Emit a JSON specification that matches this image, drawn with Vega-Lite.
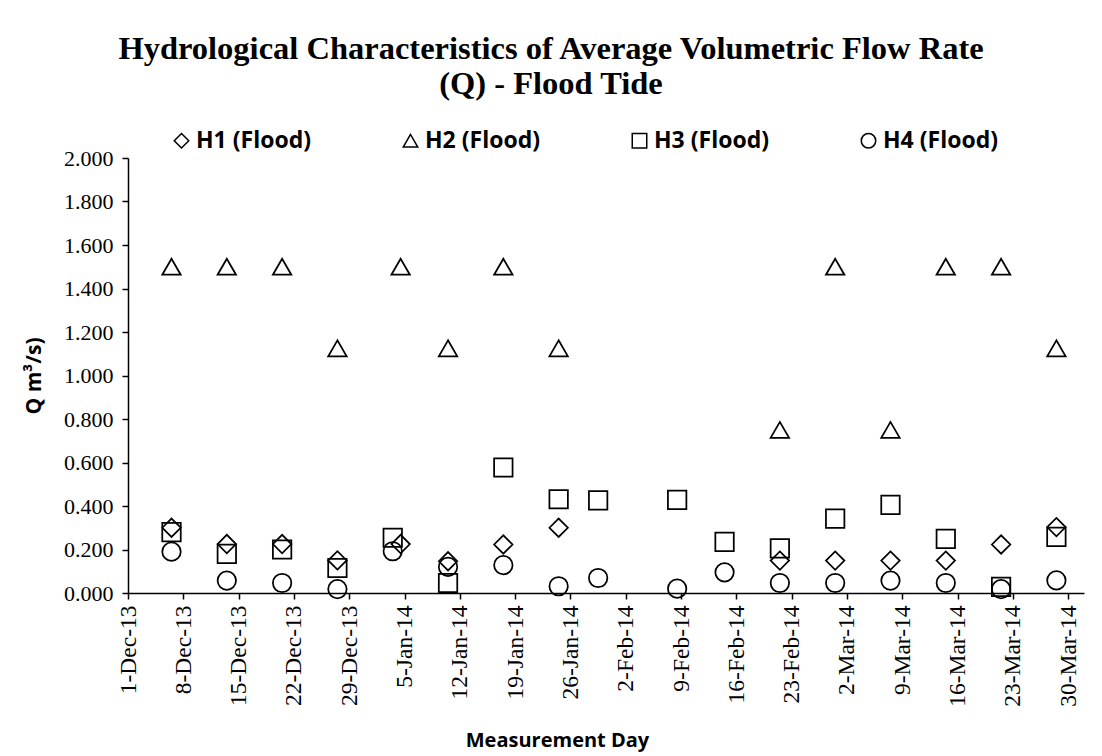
{
  "$schema": "https://vega.github.io/schema/vega-lite/v6.json",
  "width": 956,
  "height": 435,
  "autosize": {"type": "none"},
  "padding": {"left": 128, "top": 158, "right": 18, "bottom": 163},
  "background": "white",
  "title": {
    "text": ["Hydrological Characteristics of Average Volumetric Flow Rate", "(Q) - Flood Tide"],
    "font": "Liberation Serif",
    "fontSize": 32.5,
    "fontWeight": "bold",
    "color": "black",
    "lineHeight": 35,
    "anchor": "middle",
    "frame": "group",
    "dx": -55,
    "offset": 29
  },
  "config": {
    "view": {"stroke": null},
    "axis": {"grid": false, "domainColor": "black", "tickColor": "black", "labelColor": "black", "titleColor": "black", "domainWidth": 1.5, "tickWidth": 1.5}
  },
  "data": {
    "values": [
      {"date": "2013-12-06", "series": "H1 (Flood)", "q": 0.300},
      {"date": "2013-12-06", "series": "H2 (Flood)", "q": 1.500},
      {"date": "2013-12-06", "series": "H3 (Flood)", "q": 0.280},
      {"date": "2013-12-06", "series": "H4 (Flood)", "q": 0.190},
      {"date": "2013-12-13", "series": "H1 (Flood)", "q": 0.225},
      {"date": "2013-12-13", "series": "H2 (Flood)", "q": 1.500},
      {"date": "2013-12-13", "series": "H3 (Flood)", "q": 0.180},
      {"date": "2013-12-13", "series": "H4 (Flood)", "q": 0.057},
      {"date": "2013-12-20", "series": "H1 (Flood)", "q": 0.225},
      {"date": "2013-12-20", "series": "H2 (Flood)", "q": 1.500},
      {"date": "2013-12-20", "series": "H3 (Flood)", "q": 0.200},
      {"date": "2013-12-20", "series": "H4 (Flood)", "q": 0.046},
      {"date": "2013-12-27", "series": "H1 (Flood)", "q": 0.150},
      {"date": "2013-12-27", "series": "H2 (Flood)", "q": 1.125},
      {"date": "2013-12-27", "series": "H3 (Flood)", "q": 0.115},
      {"date": "2013-12-27", "series": "H4 (Flood)", "q": 0.018},
      {"date": "2014-01-03", "series": "H3 (Flood)", "q": 0.254},
      {"date": "2014-01-03", "series": "H4 (Flood)", "q": 0.192},
      {"date": "2014-01-04", "series": "H1 (Flood)", "q": 0.225},
      {"date": "2014-01-04", "series": "H2 (Flood)", "q": 1.500},
      {"date": "2014-01-10", "series": "H1 (Flood)", "q": 0.146},
      {"date": "2014-01-10", "series": "H2 (Flood)", "q": 1.125},
      {"date": "2014-01-10", "series": "H3 (Flood)", "q": 0.046},
      {"date": "2014-01-10", "series": "H4 (Flood)", "q": 0.120},
      {"date": "2014-01-17", "series": "H1 (Flood)", "q": 0.223},
      {"date": "2014-01-17", "series": "H2 (Flood)", "q": 1.500},
      {"date": "2014-01-17", "series": "H3 (Flood)", "q": 0.577},
      {"date": "2014-01-17", "series": "H4 (Flood)", "q": 0.128},
      {"date": "2014-01-24", "series": "H1 (Flood)", "q": 0.300},
      {"date": "2014-01-24", "series": "H2 (Flood)", "q": 1.125},
      {"date": "2014-01-24", "series": "H3 (Flood)", "q": 0.431},
      {"date": "2014-01-24", "series": "H4 (Flood)", "q": 0.031},
      {"date": "2014-01-29", "series": "H3 (Flood)", "q": 0.426},
      {"date": "2014-01-29", "series": "H4 (Flood)", "q": 0.069},
      {"date": "2014-02-08", "series": "H3 (Flood)", "q": 0.428},
      {"date": "2014-02-08", "series": "H4 (Flood)", "q": 0.020},
      {"date": "2014-02-14", "series": "H3 (Flood)", "q": 0.235},
      {"date": "2014-02-14", "series": "H4 (Flood)", "q": 0.095},
      {"date": "2014-02-21", "series": "H1 (Flood)", "q": 0.149},
      {"date": "2014-02-21", "series": "H2 (Flood)", "q": 0.750},
      {"date": "2014-02-21", "series": "H3 (Flood)", "q": 0.205},
      {"date": "2014-02-21", "series": "H4 (Flood)", "q": 0.046},
      {"date": "2014-02-28", "series": "H1 (Flood)", "q": 0.149},
      {"date": "2014-02-28", "series": "H2 (Flood)", "q": 1.500},
      {"date": "2014-02-28", "series": "H3 (Flood)", "q": 0.342},
      {"date": "2014-02-28", "series": "H4 (Flood)", "q": 0.046},
      {"date": "2014-03-07", "series": "H1 (Flood)", "q": 0.149},
      {"date": "2014-03-07", "series": "H2 (Flood)", "q": 0.750},
      {"date": "2014-03-07", "series": "H3 (Flood)", "q": 0.405},
      {"date": "2014-03-07", "series": "H4 (Flood)", "q": 0.057},
      {"date": "2014-03-14", "series": "H1 (Flood)", "q": 0.149},
      {"date": "2014-03-14", "series": "H2 (Flood)", "q": 1.500},
      {"date": "2014-03-14", "series": "H3 (Flood)", "q": 0.249},
      {"date": "2014-03-14", "series": "H4 (Flood)", "q": 0.046},
      {"date": "2014-03-21", "series": "H1 (Flood)", "q": 0.223},
      {"date": "2014-03-21", "series": "H2 (Flood)", "q": 1.500},
      {"date": "2014-03-21", "series": "H3 (Flood)", "q": 0.028},
      {"date": "2014-03-21", "series": "H4 (Flood)", "q": 0.018},
      {"date": "2014-03-28", "series": "H1 (Flood)", "q": 0.303},
      {"date": "2014-03-28", "series": "H2 (Flood)", "q": 1.125},
      {"date": "2014-03-28", "series": "H3 (Flood)", "q": 0.258},
      {"date": "2014-03-28", "series": "H4 (Flood)", "q": 0.058}
    ]
  },
  "mark": {"type": "point", "filled": false, "stroke": "black", "strokeWidth": 1.75, "opacity": 1, "xOffset": 4, "size": 340},
  "encoding": {
    "x": {
      "field": "date",
      "type": "temporal",
      "scale": {"type": "utc", "domain": ["2013-12-01", "2014-04-01"], "nice": false},
      "axis": {
        "title": "Measurement Day",
        "format": "%-d-%b-%y",
        "tickCount": {"interval": "week", "step": 1},
        "labelAngle": -90,
        "labelAlign": "right",
        "labelBaseline": "middle",
        "labelFont": "Liberation Serif",
        "labelFontSize": 23.5,
        "labelPadding": 6,
        "labelOverlap": false,
        "labelFlush": false,
        "tickSize": 6,
        "titleFont": "Open Sans",
        "titleFontSize": 20,
        "titleFontWeight": "bold",
        "titleX": 429,
        "titlePadding": 24
      }
    },
    "y": {
      "field": "q",
      "type": "quantitative",
      "scale": {"domain": [0, 2], "nice": false, "zero": true},
      "axis": {
        "title": "Q m³/s)",
        "format": ".3f",
        "values": [0, 0.2, 0.4, 0.6, 0.8, 1.0, 1.2, 1.4, 1.6, 1.8, 2.0],
        "labelFont": "Liberation Serif",
        "labelFontSize": 22,
        "labelPadding": 9,
        "tickSize": 6,
        "titleFont": "Open Sans",
        "titleFontSize": 21,
        "titleFontWeight": "bold",
        "titlePadding": 19
      }
    },
    "shape": {
      "field": "series",
      "type": "nominal",
      "scale": {"domain": ["H1 (Flood)", "H2 (Flood)", "H3 (Flood)", "H4 (Flood)"], "range": ["diamond", "triangle-up", "square", "circle"]},
      "legend": {
        "title": null,
        "orient": "none",
        "direction": "horizontal",
        "columns": 4,
        "legendX": 42,
        "legendY": -29,
        "columnPadding": 88,
        "symbolSize": 210,
        "symbolStrokeWidth": 1.5,
        "symbolStrokeColor": "black",
        "labelFont": "Open Sans",
        "labelFontSize": 23,
        "labelFontWeight": "bold",
        "labelColor": "black",
        "labelOffset": 3
      }
    }
  }
}
